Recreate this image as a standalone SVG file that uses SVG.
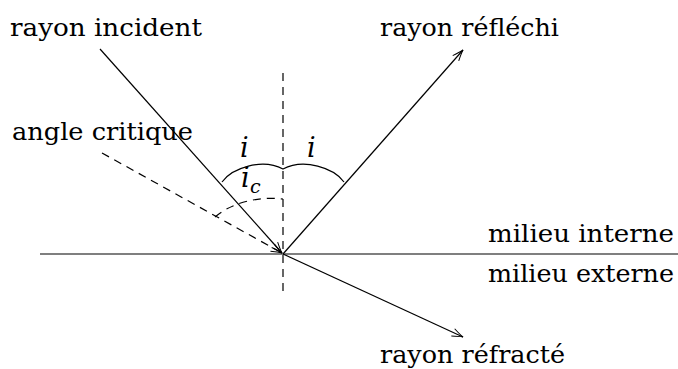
<svg xmlns="http://www.w3.org/2000/svg" width="678" height="369" viewBox="0 0 678 369">
<style>
  text { font-family: "DejaVu Serif", "Liberation Serif", serif; fill: #000; }
  .t { font-size: 25px; }
  .m { font-style: italic; }
  .ln { stroke: #000; stroke-width: 1.2; fill: none; }
  .ds { stroke: #000; stroke-width: 1.2; fill: none; stroke-dasharray: 8 6; }
</style>
<defs>
  <marker id="arr" viewBox="-12 -6 14 12" markerWidth="14" markerHeight="12" refX="0" refY="0" orient="auto" markerUnits="userSpaceOnUse">
    <path d="M-11,-4 Q-4,-1 0,0 Q-4,1 -11,4" stroke="#000" stroke-width="1" fill="none"/>
  </marker>
</defs>
<g id="connectors">
  <line class="ln" x1="40" y1="254" x2="678" y2="254"/>
  <line class="ds" x1="283" y1="73" x2="283" y2="292"/>
  <line class="ln" x1="100" y1="49" x2="282" y2="253" marker-end="url(#arr)"/>
  <line class="ds" x1="102" y1="153" x2="282" y2="253" marker-end="url(#arr)"/>
  <line class="ln" x1="283" y1="254" x2="463" y2="50" marker-end="url(#arr)"/>
  <line class="ln" x1="283" y1="254" x2="463" y2="337" marker-end="url(#arr)"/>
  <path class="ln" d="M222,182 C232,168 262,158 283,169 C304,158 334,168 344,182"/>
  <path class="ds" d="M215,217 C230,204 255,196 283,199" stroke-dasharray="7 5"/>
</g>
<g id="labels">
  <text class="t" x="10" y="36" textLength="192" lengthAdjust="spacingAndGlyphs">rayon incident</text>
  <text class="t" x="12" y="140" textLength="181" lengthAdjust="spacingAndGlyphs">angle critique</text>
  <text class="t" x="380" y="36" textLength="179" lengthAdjust="spacingAndGlyphs">rayon réfléchi</text>
  <text class="t" x="488" y="242" textLength="186" lengthAdjust="spacingAndGlyphs">milieu interne</text>
  <text class="t" x="488" y="282" textLength="186" lengthAdjust="spacingAndGlyphs">milieu externe</text>
  <text class="t" x="380" y="363" textLength="185" lengthAdjust="spacingAndGlyphs">rayon réfracté</text>
  <text class="m" x="240" y="157" font-size="27">i</text>
  <text class="m" x="307" y="157" font-size="27">i</text>
  <text class="m" x="241" y="187" font-size="27">i</text>
  <text class="m" x="250" y="193" font-size="19">c</text>
</g>
</svg>
